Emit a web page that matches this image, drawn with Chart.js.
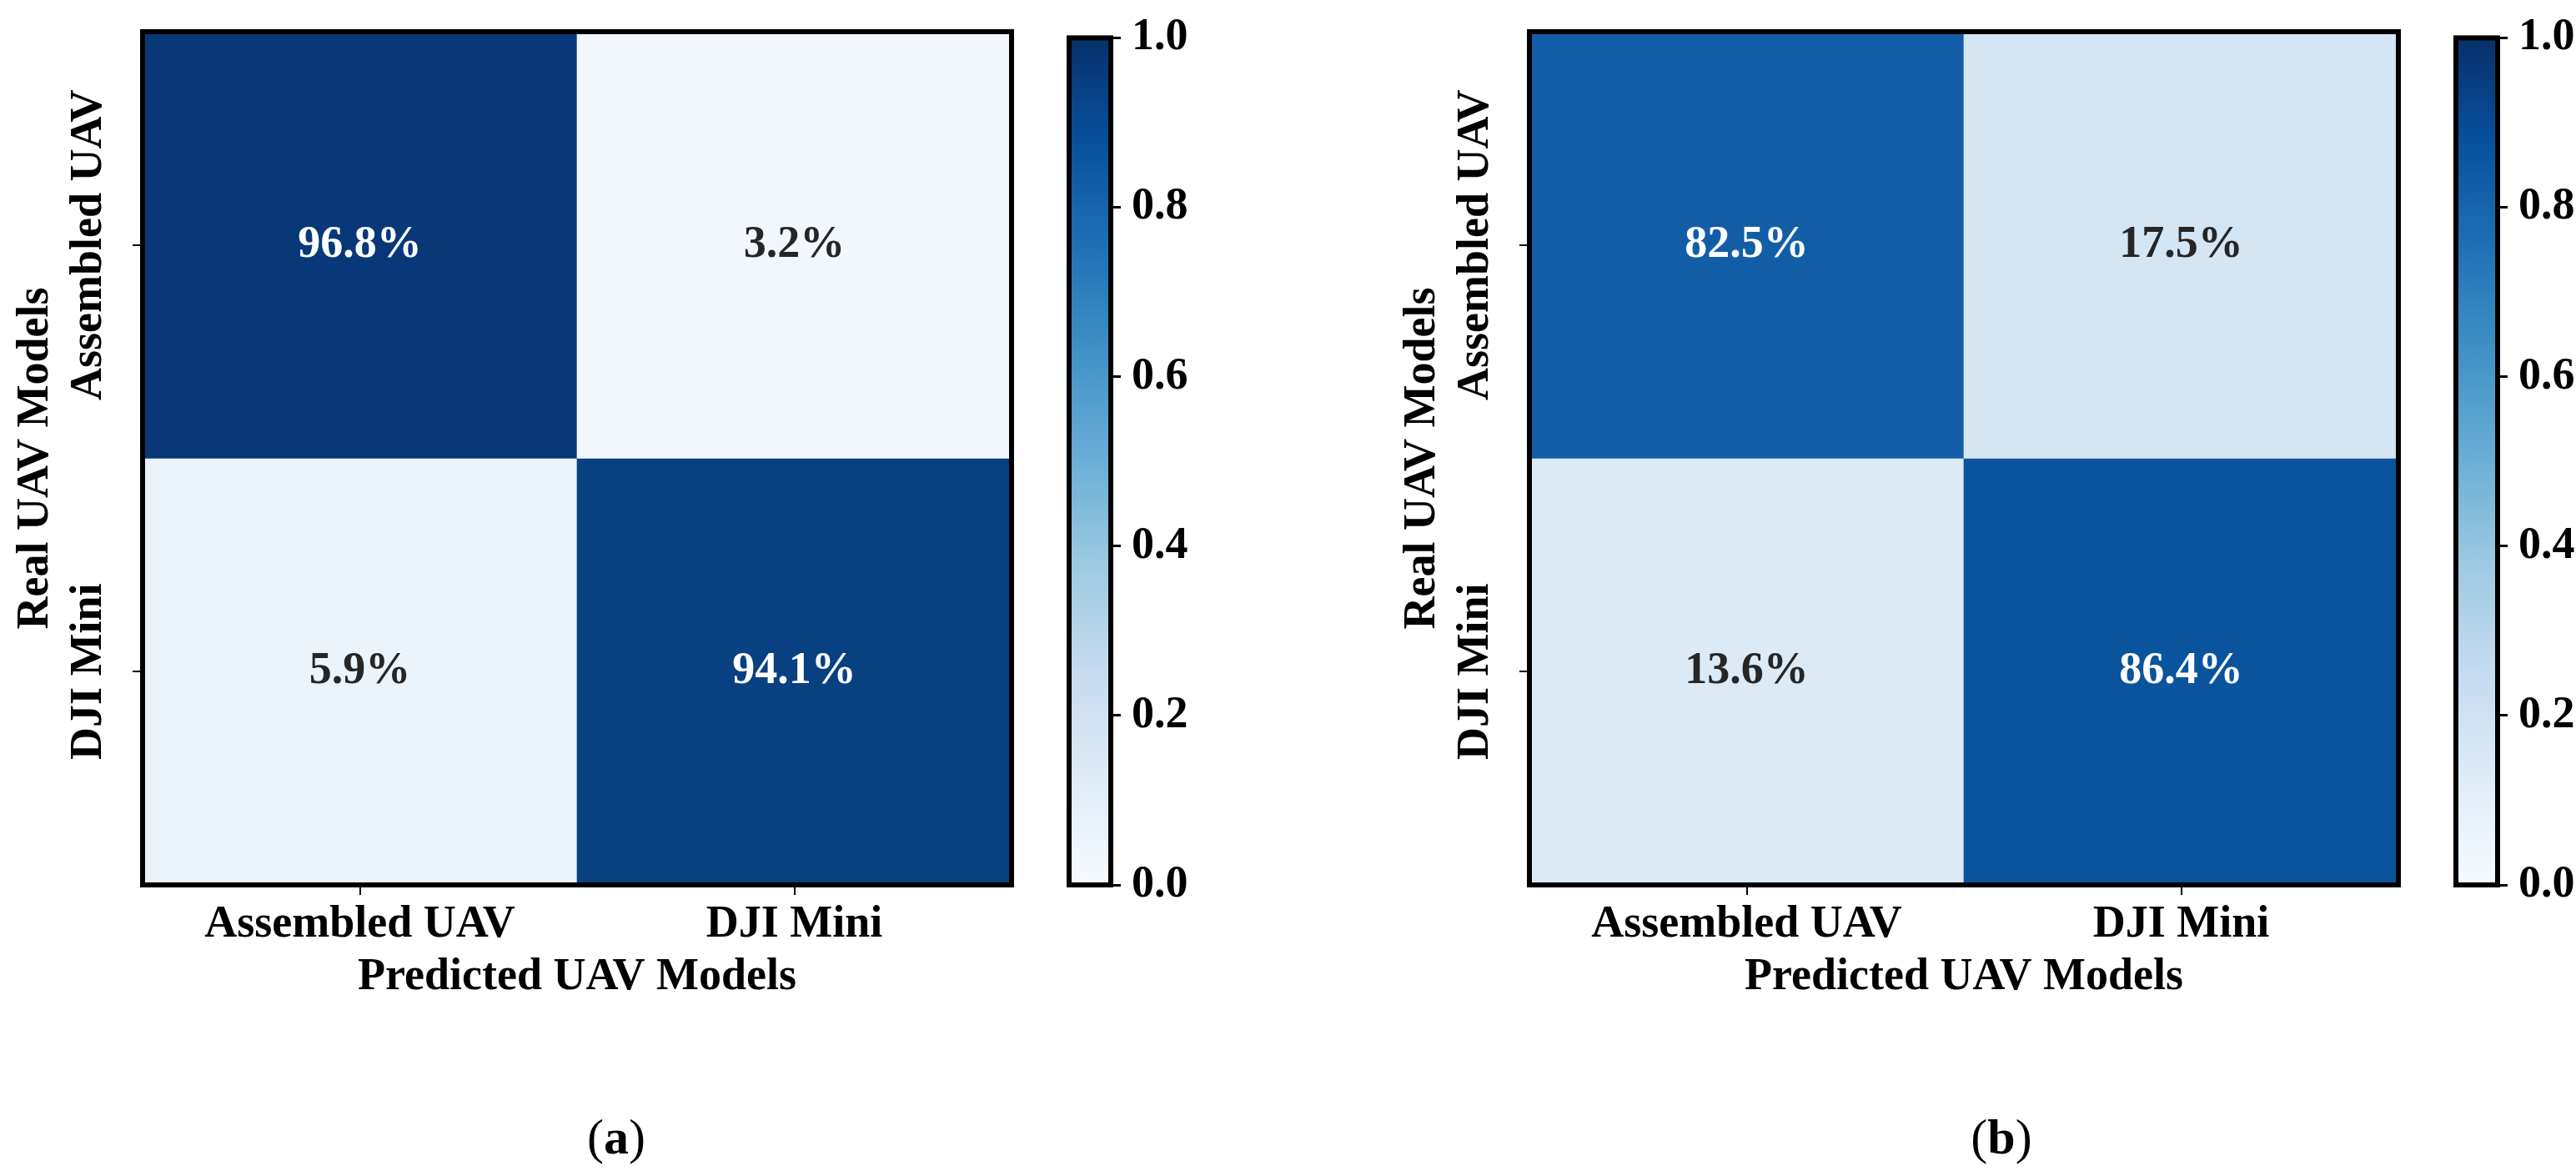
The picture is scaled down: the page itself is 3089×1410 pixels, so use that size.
<!DOCTYPE html>
<html>
<head>
<meta charset="utf-8">
<script src="https://cdn.jsdelivr.net/npm/chart.js@4.4.1/dist/chart.umd.min.js"></script>
<style>
    html, body { margin: 0; padding: 0; background: #fff; }
    body { width: 3089px; height: 1410px; position: relative; overflow: hidden; }
    canvas { position: absolute; top: 0; }
    .caption {
        position: absolute; top: 1326px; transform: translateX(-50%);
        font-family: "Liberation Serif", "Times New Roman", serif;
        font-size: 60px; line-height: 74px; color: #000;
    }
</style>
</head>
<body>
<canvas id="matrixA" width="1240" height="1240" style="left:0px"></canvas>
<canvas id="barA" width="200" height="1240" style="left:1250px"></canvas>
<canvas id="matrixB" width="1240" height="1240" style="left:1663px"></canvas>
<canvas id="barB" width="176" height="1240" style="left:2913px"></canvas>
<div class="caption" style="left:739px">(<b>a</b>)</div>
<div class="caption" style="left:2400px">(<b>b</b>)</div>
<script>
const rowLabels = ['Assembled UAV', 'DJI Mini'];
const colLabels = ['Assembled UAV', 'DJI Mini'];
const matrixA = [
    [0.968, 0.032],
    [0.059, 0.941],
];
const matrixB = [
    [0.825, 0.175],
    [0.136, 0.864],
];
const barTicks = [0, 0.2, 0.4, 0.6, 0.8, 1.0];
const xTitle = 'Predicted UAV Models';
const yTitle = 'Real UAV Models';

// matplotlib "Blues"
const blues = ['#f7fbff', '#deebf7', '#c6dbef', '#9ecae1', '#6baed6', '#4292c6', '#2171b5', '#08519c', '#08306b'];

const family = '"Liberation Serif", "Times New Roman", serif';
const font = { family, size: 54, weight: 'bold' };

function hexRgb(h) {
    return [1, 3, 5].map((i) => parseInt(h.slice(i, i + 2), 16));
}

function bluesAt(v) {
    const t = Math.min(Math.max(v, 0), 1) * (blues.length - 1);
    const i = Math.min(Math.floor(t), blues.length - 2);
    const f = t - i;
    const a = hexRgb(blues[i]);
    const b = hexRgb(blues[i + 1]);
    const c = a.map((x, k) => Math.round(x + (b[k] - x) * f));
    return `rgb(${c[0]}, ${c[1]}, ${c[2]})`;
}

const frame = {
    id: 'frame',
    afterDatasetsDraw(chart) {
        const a = chart.chartArea;
        const ctx = chart.ctx;
        ctx.save();
        ctx.lineWidth = 6;
        ctx.strokeStyle = '#000';
        ctx.strokeRect(a.left, a.top, a.right - a.left, a.bottom - a.top);
        ctx.restore();
    },
};

const cellText = {
    id: 'cellText',
    afterDatasetsDraw(chart) {
        const ctx = chart.ctx;
        ctx.save();
        ctx.font = `bold 54px ${family}`;
        ctx.textAlign = 'center';
        ctx.textBaseline = 'middle';
        chart.data.datasets.forEach((ds, r) => {
            chart.getDatasetMeta(r).data.forEach((bar, c) => {
                const v = ds.values[c];
                ctx.fillStyle = v > 0.5 ? '#ffffff' : '#262626';
                ctx.fillText((v * 100).toFixed(1) + '%', bar.x, (bar.y + bar.base) / 2);
            });
        });

        // row labels, turned like the axis title
        const y = chart.scales.y;
        ctx.fillStyle = '#000';
        y.ticks.forEach((t, i) => {
            ctx.save();
            ctx.translate(107, y.getPixelForValue(t.value));
            ctx.rotate(-Math.PI / 2);
            ctx.fillText(rowLabels[i], 0, 0);
            ctx.restore();
        });
        ctx.restore();
    },
};

function makeMatrix(canvasId, matrix) {
    return new Chart(document.getElementById(canvasId), {
        type: 'bar',
        data: {
            labels: colLabels,
            datasets: matrix.map((row, r) => ({
                data: colLabels.map(() => [r, r + 1]),
                values: row,
                backgroundColor: row.map(bluesAt),
                borderWidth: 0,
                grouped: false,
                barPercentage: 1,
                categoryPercentage: 1,
            })),
        },
        options: {
            responsive: false,
            animation: false,
            devicePixelRatio: 1,
            layout: { padding: { top: 38, right: 27, left: 0, bottom: 0 } },
            plugins: { legend: { display: false }, tooltip: { enabled: false } },
            scales: {
                x: {
                    grid: { display: true, offset: false, drawOnChartArea: false, tickLength: 12, color: '#000', lineWidth: 2 },
                    border: { display: false },
                    ticks: { color: '#000', font, padding: 4, maxRotation: 0 },
                    title: { display: true, text: xTitle, color: '#000', font, padding: { top: 0, bottom: 36 } },
                    afterFit: (scale) => { scale.height = 179; },
                },
                y: {
                    reverse: true,
                    min: 0,
                    max: rowLabels.length,
                    afterBuildTicks: (scale) => { scale.ticks = rowLabels.map((_, i) => ({ value: i + 0.5 })); },
                    grid: { display: true, drawOnChartArea: false, tickLength: 12, color: '#000', lineWidth: 2 },
                    border: { display: false },
                    ticks: { display: false },
                    title: { display: true, text: yTitle, color: '#000', font, padding: { top: 11, bottom: 0 } },
                    afterFit: (scale) => { scale.width = 171; },
                },
            },
        },
        plugins: [cellText, frame],
    });
}

function makeColorbar(canvasId, width) {
    return new Chart(document.getElementById(canvasId), {
        type: 'bar',
        data: {
            labels: [''],
            datasets: [{
                data: [1],
                borderWidth: 0,
                barPercentage: 1,
                categoryPercentage: 1,
                backgroundColor: (ctx) => {
                    const a = ctx.chart.chartArea;
                    if (!a) {
                        return blues[0];
                    }
                    const g = ctx.chart.ctx.createLinearGradient(0, a.bottom, 0, a.top);
                    blues.forEach((c, i) => g.addColorStop(i / (blues.length - 1), c));
                    return g;
                },
            }],
        },
        options: {
            responsive: false,
            animation: false,
            devicePixelRatio: 1,
            layout: { padding: { top: 38, left: 32, right: 0, bottom: 179 } },
            plugins: { legend: { display: false }, tooltip: { enabled: false } },
            scales: {
                x: { display: false },
                y: {
                    position: 'right',
                    min: 0,
                    max: 1,
                    afterBuildTicks: (scale) => { scale.ticks = barTicks.map((v) => ({ value: v })); },
                    grid: { display: true, drawOnChartArea: false, tickLength: 12, color: '#000', lineWidth: 3 },
                    border: { display: false },
                    ticks: { color: '#000', font, padding: 13, callback: (v) => Number(v).toFixed(1) },
                    afterFit: (scale) => { scale.width = width - 82; },
                },
            },
        },
        plugins: [frame],
    });
}

makeMatrix('matrixA', matrixA);
makeColorbar('barA', 200);
makeMatrix('matrixB', matrixB);
makeColorbar('barB', 176);
</script>
</body>
</html>
